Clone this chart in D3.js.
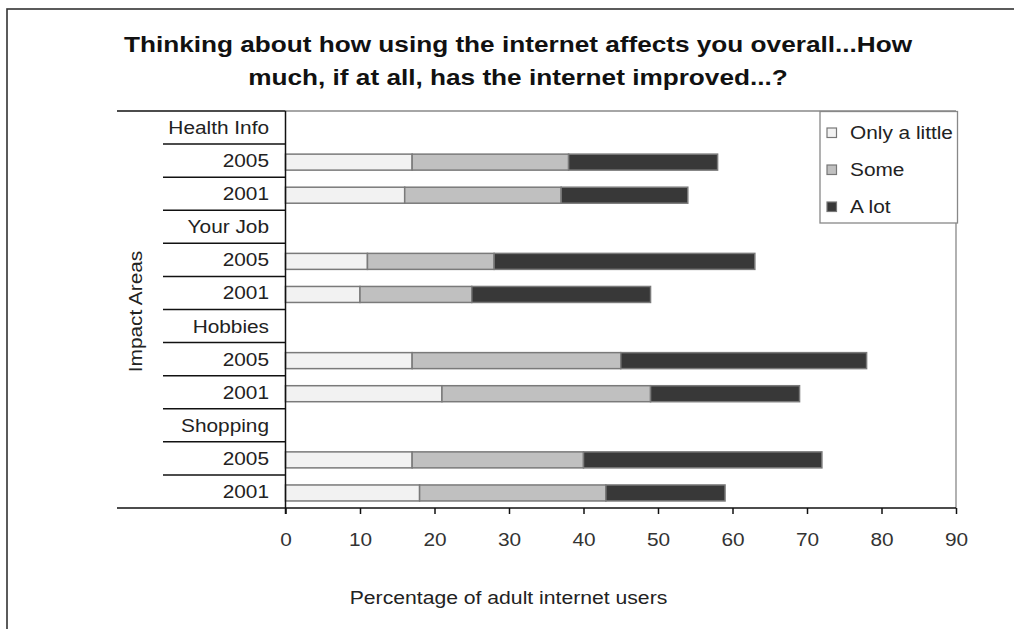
<!DOCTYPE html>
<html>
<head>
<meta charset="utf-8">
<script src="https://cdn.jsdelivr.net/npm/d3@7"></script>
<style>
  html, body { margin: 0; padding: 0; background: #fff; }
  svg { display: block; font-family: "Liberation Sans", Arial, sans-serif; }
</style>
</head>
<body>
<svg id="chart" width="1014" height="629"></svg>
<script>
// ---- data ----
const groups = ["Health Info", "Your Job", "Hobbies", "Shopping"];
const years = ["2005", "2001"];
const seriesNames = ["Only a little", "Some", "A lot"];
// one value per (group, year) in order: Health 2005, Health 2001, Job 2005, Job 2001, ...
const onlyALittle = [17, 16, 11, 10, 17, 21, 17, 18];
const someVals    = [21, 21, 17, 15, 28, 28, 23, 25];
const aLotVals    = [20, 17, 35, 24, 33, 20, 32, 16];
const xTicks = [0, 10, 20, 30, 40, 50, 60, 70, 80, 90];

const titleLines = ["Thinking about how using the internet affects you overall...How",
                    "much, if at all, has the internet improved...?"];
const xTitle = "Percentage of adult internet users";
const yTitle = "Impact Areas";

const colors = ["#f2f2f2", "#c0c0c0", "#383838"];

// ---- build rows ----
const rows = [];
let k = 0;
groups.forEach((g, gi) => {
  rows.push({ id: "h" + gi, label: g, header: true });
  years.forEach(yr => {
    rows.push({ id: "r" + k, label: yr, header: false,
                vals: [onlyALittle[k], someVals[k], aLotVals[k]] });
    k++;
  });
});

const svg = d3.select("#chart");
const SX = 1.19;   // horizontal widening of the reference's font
const FS = 17.5;

function stretchedText(parent, tx, ty, str, opts) {
  opts = opts || {};
  const t = parent.append("text")
    .attr("transform", `translate(${tx},${ty})` + (opts.rotate ? ` rotate(${opts.rotate})` : "") + ` scale(${opts.sx || SX},1)`)
    .attr("text-anchor", opts.anchor || "start")
    .attr("font-size", opts.size || FS)
    .attr("font-weight", opts.weight || "normal")
    .attr("fill", opts.fill || "#222")
    .text(str);
  return t;
}

// outer frame
svg.append("rect").attr("x", 7).attr("y", 9).attr("width", 1030).attr("height", 650)
  .attr("fill", "none").attr("stroke", "#333").attr("stroke-width", 1.6);

const pLeft = 285.5, pRight = 956, pTop = 111, pBottom = 508;
const x = d3.scaleLinear().domain([0, 90]).range([pLeft, pRight]);
const y = d3.scaleBand().domain(rows.map(r => r.id)).range([pTop, pBottom]);

// title
titleLines.forEach((line, i) => {
  stretchedText(svg, 518, 52 + i * 33, line,
    { anchor: "middle", size: 22, weight: "bold", fill: "#111" });
});

// plot frame (top & right, grey)
svg.append("line").attr("x1", pLeft).attr("x2", pRight).attr("y1", pTop).attr("y2", pTop)
  .attr("stroke", "#888").attr("stroke-width", 1.3);
svg.append("line").attr("x1", pRight).attr("x2", pRight).attr("y1", pTop).attr("y2", pBottom)
  .attr("stroke", "#888").attr("stroke-width", 1.3);

// bars
const stack = svg.append("g");
const barH = 16;
rows.filter(r => !r.header).forEach(r => {
  let acc = 0;
  r.vals.forEach((v, i) => {
    stack.append("rect")
      .attr("x", x(acc)).attr("width", x(acc + v) - x(acc))
      .attr("y", y(r.id) + y.bandwidth() / 2 - barH / 2 + 1.5).attr("height", barH)
      .attr("fill", colors[i]).attr("stroke", "#7a7a7a").attr("stroke-width", 1.5);
    acc += v;
  });
});

// category labels and separators
const catG = svg.append("g");
rows.forEach(d => {
  stretchedText(catG, 269, y(d.id) + y.bandwidth() / 2 + 6.5, d.label, { anchor: "end" });
});
catG.selectAll("line.sep").data(rows.slice(1)).join("line").attr("class", "sep")
  .attr("x1", 163).attr("x2", pLeft).attr("y1", d => y(d.id)).attr("y2", d => y(d.id))
  .attr("stroke", "#111").attr("stroke-width", 1.5);
// top line extending left
svg.append("line").attr("x1", 117).attr("x2", pLeft).attr("y1", pTop).attr("y2", pTop)
  .attr("stroke", "#111").attr("stroke-width", 1.5);
// vertical axis line
svg.append("line").attr("x1", pLeft).attr("x2", pLeft).attr("y1", pTop).attr("y2", pBottom + 6)
  .attr("stroke", "#111").attr("stroke-width", 1.5);

// x axis
const xAxis = svg.append("g").attr("transform", `translate(0,${pBottom})`)
  .call(d3.axisBottom(x).tickValues(xTicks).tickSize(6).tickSizeOuter(0));
xAxis.select(".domain").remove();
xAxis.selectAll(".tick line").attr("stroke", "#111").attr("stroke-width", 1.5);
xAxis.selectAll(".tick text")
  .attr("y", null).attr("dy", null)
  .attr("transform", `translate(0,38) scale(${SX},1)`)
  .attr("font-size", FS).attr("fill", "#333")
  .attr("font-family", "'Liberation Sans', Arial, sans-serif");
svg.append("line").attr("x1", 117).attr("x2", pRight).attr("y1", pBottom).attr("y2", pBottom)
  .attr("stroke", "#111").attr("stroke-width", 1.5);

// axis titles
stretchedText(svg, 508.5, 604, xTitle, { anchor: "middle", sx: 1.21 });
stretchedText(svg, 142, (pTop + pBottom) / 2 + 2, yTitle, { anchor: "middle", rotate: -90 });

// legend
const lg = svg.append("g");
lg.append("rect").attr("x", 820).attr("y", 111.5).attr("width", 137.5).attr("height", 111.5)
  .attr("fill", "#fff").attr("stroke", "#888").attr("stroke-width", 1.3);
seriesNames.forEach((s, i) => {
  const cy = 133 + i * 37;
  lg.append("rect").attr("x", 827).attr("y", cy - 5).attr("width", 9.5).attr("height", 9.5)
    .attr("fill", colors[i]).attr("stroke", "#777").attr("stroke-width", 1.2);
  stretchedText(lg, 850, cy + 6, s, {});
});
</script>
</body>
</html>
